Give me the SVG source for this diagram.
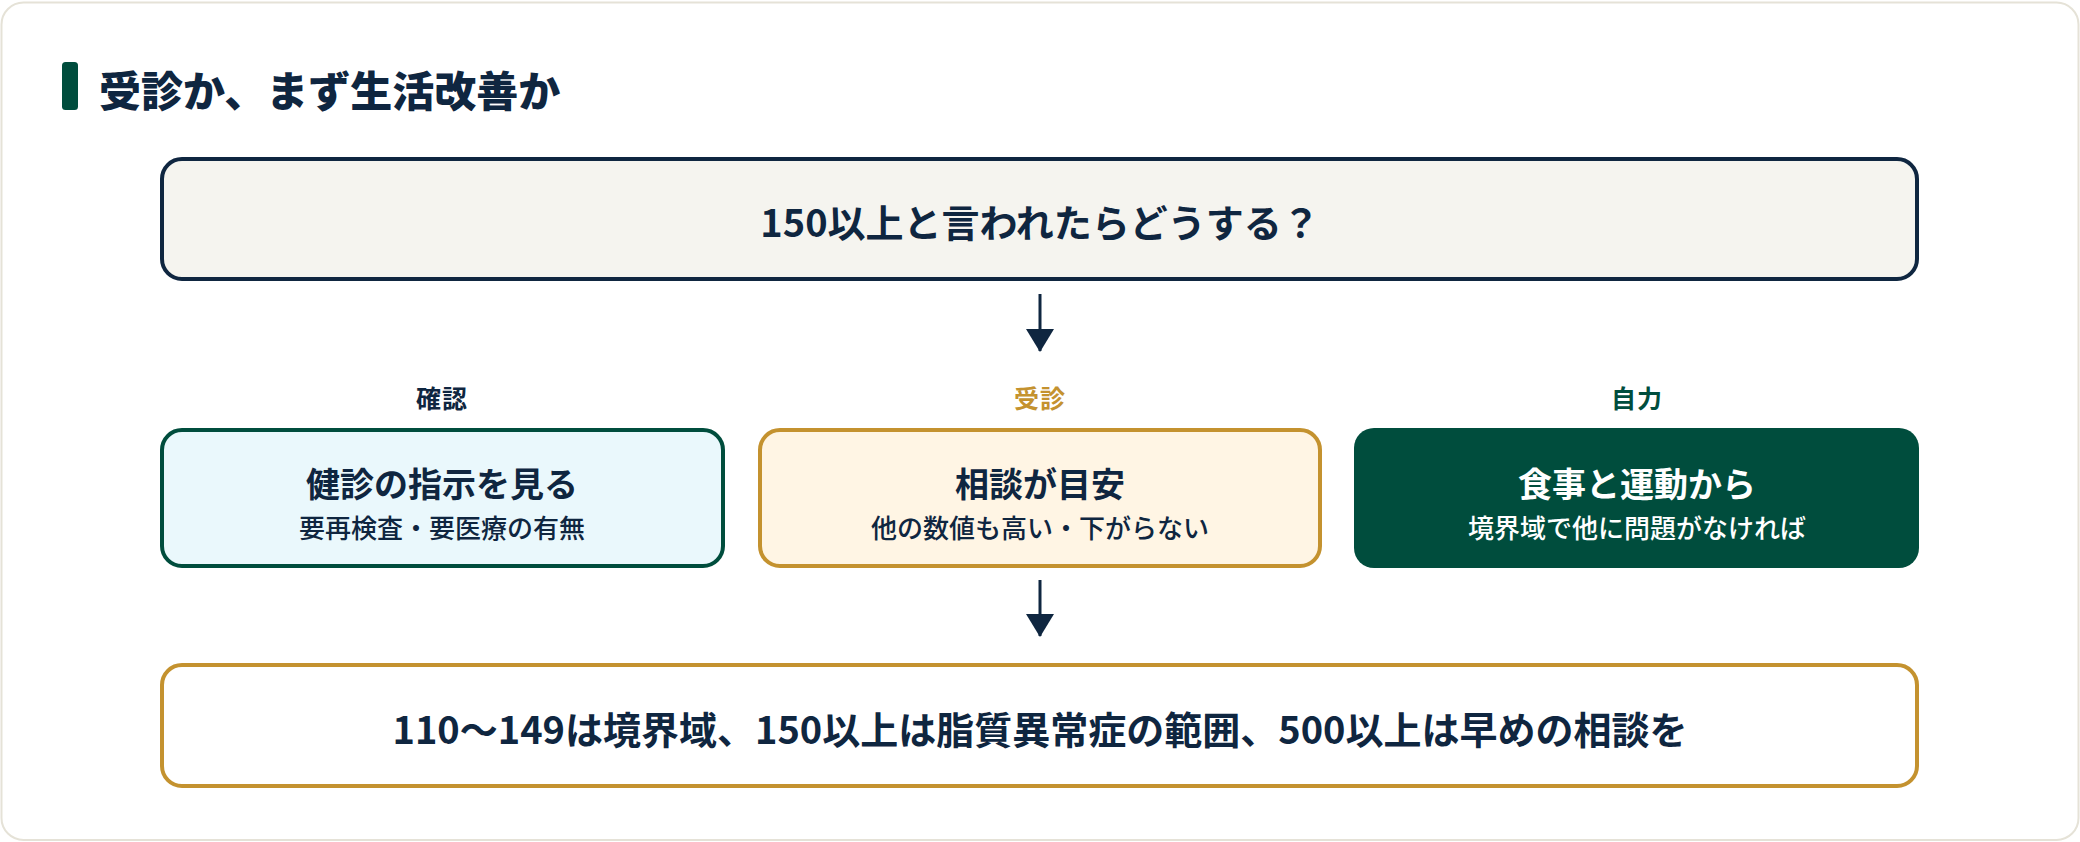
<svg xmlns="http://www.w3.org/2000/svg" width="2080" height="842" viewBox="0 0 2080 842">
<defs>
<style>
text{font-family:"Noto Sans CJK JP","Noto Sans CJK SC",sans-serif;text-anchor:middle;dominant-baseline:central;}
.navy{fill:#0f2640;}
.b{font-weight:700;}
.lbl{font-size:25px;font-weight:700;letter-spacing:1px;}
.main{font-size:34px;font-weight:700;}
.sub{font-size:26px;font-weight:500;}
.big{font-size:38px;font-weight:700;fill:#0f2640;}
.conn{stroke:#0f2640;stroke-width:3;fill:none;}
</style>
<marker id="ah" markerWidth="24" markerHeight="28" viewBox="0 0 24 28" refX="22" refY="14" orient="auto" markerUnits="userSpaceOnUse">
<path d="M0,0 L23,14 L0,28 Z" fill="#0f2640"/>
</marker>
</defs>
<rect x="1.5" y="2.5" width="2077" height="837.5" rx="22" fill="#ffffff" stroke="#e5e2d7" stroke-width="2"/>
<g id="title">
<rect x="62" y="62" width="16" height="48" rx="3.5" fill="#004d3d"/>
<text x="99" y="88" class="navy" style="font-size:42px;font-weight:800;text-anchor:start;">受診か、まず生活改善か</text>
</g>
<g id="question">
<rect x="162" y="159" width="1755" height="120" rx="20" fill="#f5f4ef" stroke="#0f2640" stroke-width="4"/>
<text x="1040" y="220" class="big">150以上と言われたらどうする？</text>
</g>
<g id="check">
<text x="442" y="397" class="lbl navy">確認</text>
<rect x="162" y="430" width="561" height="136" rx="20" fill="#eaf8fc" stroke="#004d3d" stroke-width="4"/>
<text x="442" y="482" class="main navy">健診の指示を見る</text>
<text x="442" y="526" class="sub navy">要再検査・要医療の有無</text>
</g>
<g id="visit">
<text x="1040" y="397" class="lbl" fill="#c4922f">受診</text>
<rect x="760" y="430" width="560" height="136" rx="20" fill="#fff5e4" stroke="#c4922f" stroke-width="4"/>
<text x="1040" y="482" class="main navy">相談が目安</text>
<text x="1040" y="526" class="sub navy">他の数値も高い・下がらない</text>
</g>
<g id="self">
<text x="1637" y="397" class="lbl" fill="#004d3d">自力</text>
<rect x="1354" y="428" width="565" height="140" rx="20" fill="#004d3d"/>
<text x="1637" y="482" class="main" fill="#ffffff">食事と運動から</text>
<text x="1637" y="526" class="sub" fill="#ffffff">境界域で他に問題がなければ</text>
</g>
<g id="summary">
<rect x="162" y="665" width="1755" height="121" rx="20" fill="#ffffff" stroke="#c4922f" stroke-width="4"/>
<text x="1040" y="727" class="big">110〜149は境界域、150以上は脂質異常症の範囲、500以上は早めの相談を</text>
</g>
<g id="connectors">
<line x1="1040" y1="294" x2="1040" y2="351" class="conn" marker-end="url(#ah)"/>
<line x1="1040" y1="580" x2="1040" y2="636" class="conn" marker-end="url(#ah)"/>
</g>
</svg>
